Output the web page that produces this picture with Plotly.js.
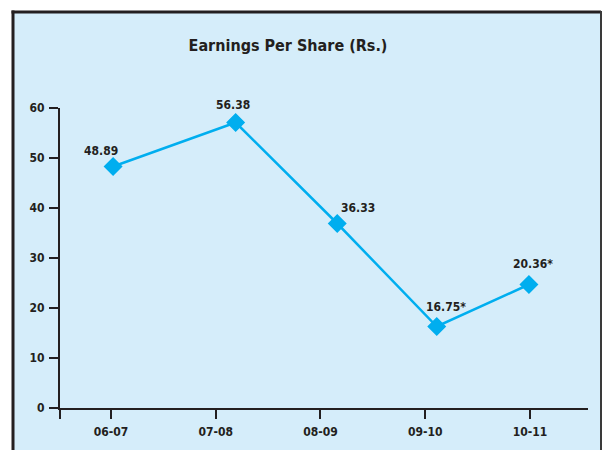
<!DOCTYPE html>
<html>
<head>
<meta charset="utf-8">
<script src="https://cdn.plot.ly/plotly-3.0.1.min.js"></script>
<style>html,body{margin:0;padding:0;background:#fff;}#chart{width:603px;height:450px;}</style>
</head>
<body>
<div id="chart"></div>
<script>
// Data
var categories = ['06-07', '07-08', '08-09', '09-10', '10-11'];
var categoryPos = [0, 1, 2, 3, 4];
var pointPos = [0.02, 1.19, 2.16, 3.11, 3.99];
var epsPlotted = [48.3, 57.1, 36.9, 16.3, 24.7];
var epsLabels = ['48.89', '56.38', '36.33', '16.75*', '20.36*'];
var yTicks = [0, 10, 20, 30, 40, 50, 60];

// label offsets (px) - layout only
var labelDx = [-12, -3, 21, 9, 4];
var labelDy = [16, 18, 16, 20, 21];

var FONT = '"DejaVu Sans Condensed", "DejaVu Sans", sans-serif';
var DARK = '#231f20';
var BLUE = '#00aeef';
var BG = '#d5edfa';

var xMin = -0.487, xMax = 4.554;

var trace = {
  x: pointPos,
  y: epsPlotted,
  type: 'scatter',
  mode: 'lines+markers',
  line: {color: BLUE, width: 2.5},
  marker: {symbol: 'diamond', size: 13, color: BLUE, line: {color: BLUE, width: 1.5}},
  hoverinfo: 'none',
  cliponaxis: false
};

var annotations = epsLabels.map(function (t, i) {
  return {
    x: pointPos[i], y: epsPlotted[i], xref: 'x', yref: 'y',
    text: t, showarrow: false,
    xshift: labelDx[i], yshift: labelDy[i],
    xanchor: 'center', yanchor: 'middle',
    font: {family: FONT, size: 12, color: DARK, weight: 'bold'}
  };
});

// frame in paper coordinates (plot area: x 60..588, y 108..408 px)
function px2x(p) { return (p - 60) / 528; }
function py2y(p) { return (408 - p) / 300; }

var shapes = [
  {type: 'rect', xref: 'paper', yref: 'paper', layer: 'below',
   x0: px2x(12), x1: px2x(601), y0: py2y(470), y1: py2y(11),
   fillcolor: BG, line: {width: 0}},
  {type: 'line', xref: 'paper', yref: 'paper', x0: px2x(13), x1: px2x(13), y0: py2y(470), y1: py2y(10.5),
   line: {color: DARK, width: 3}},
  {type: 'line', xref: 'paper', yref: 'paper', x0: px2x(11.5), x1: px2x(601), y0: py2y(12), y1: py2y(12),
   line: {color: DARK, width: 3}},
  {type: 'line', xref: 'paper', yref: 'paper', x0: px2x(601), x1: px2x(601), y0: py2y(470), y1: py2y(11),
   line: {color: '#3a3a3a', width: 2}}
];

var layout = {
  width: 603, height: 450,
  margin: {l: 60, r: 15, t: 108, b: 42, pad: 0},
  paper_bgcolor: '#ffffff',
  plot_bgcolor: 'rgba(0,0,0,0)',
  showlegend: false,
  title: {
    text: 'Earnings Per Share (Rs.)',
    x: 288 / 603, xref: 'container', xanchor: 'center',
    y: 1 - 45 / 450, yref: 'container', yanchor: 'middle',
    font: {family: FONT, size: 16, color: DARK, weight: 'bold'}
  },
  xaxis: {
    range: [xMin, xMax],
    tickmode: 'array',
    tickvals: [xMin].concat(categoryPos),
    ticktext: [''].concat(categories),
    showline: true, linecolor: DARK, linewidth: 2,
    ticks: 'outside', ticklen: 9, tickwidth: 2, tickcolor: DARK,
    showgrid: false, zeroline: false,
    ticklabelstandoff: 3,
    tickfont: {family: FONT, size: 12, color: DARK, weight: 'bold'},
    fixedrange: true
  },
  yaxis: {
    range: [0, 60],
    tickmode: 'array',
    tickvals: yTicks,
    ticktext: yTicks.map(String),
    showline: true, linecolor: DARK, linewidth: 2,
    ticks: 'outside', ticklen: 9, tickwidth: 2, tickcolor: DARK,
    showgrid: false, zeroline: false,
    ticklabelstandoff: 2,
    tickfont: {family: FONT, size: 12, color: DARK, weight: 'bold'},
    fixedrange: true
  },
  shapes: shapes,
  annotations: annotations
};

Plotly.newPlot('chart', [trace], layout, {staticPlot: true, displayModeBar: false});
</script>
</body>
</html>
